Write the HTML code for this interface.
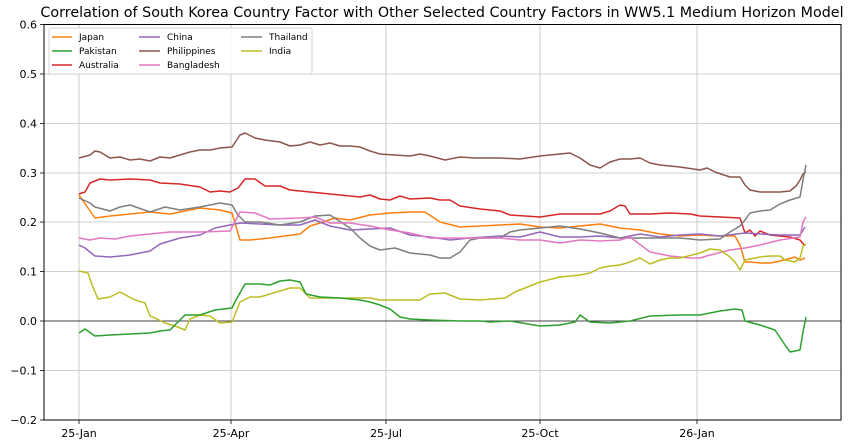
<!DOCTYPE html>
<html><head><meta charset="utf-8"><style>body{margin:0;background:#fff}svg{display:block}text{font-family:"DejaVu Sans","Liberation Sans",sans-serif}</style></head><body>
<svg width="854" height="440" viewBox="0 0 854 440">
<rect x="0" y="0" width="854" height="440" fill="#fff"/>
<g stroke="#b0b0b0" stroke-width="0.8" opacity="0.8">
<line x1="44" x2="841" y1="24.5" y2="24.5"/><line x1="44" x2="841" y1="74" y2="74"/><line x1="44" x2="841" y1="123.5" y2="123.5"/><line x1="44" x2="841" y1="173" y2="173"/><line x1="44" x2="841" y1="222" y2="222"/><line x1="44" x2="841" y1="271.5" y2="271.5"/><line x1="44" x2="841" y1="370.5" y2="370.5"/>
<line x1="79" x2="79" y1="24" y2="420"/><line x1="231" x2="231" y1="24" y2="420"/><line x1="386" x2="386" y1="24" y2="420"/><line x1="540" x2="540" y1="24" y2="420"/><line x1="697" x2="697" y1="24" y2="420"/>
</g>
<line x1="44" x2="841" y1="321" y2="321" stroke="#000" stroke-width="0.8"/>
<g fill="none" stroke-width="1.5" stroke-linejoin="round">
<polyline stroke="#8c564b" points="79,158 90,155 95,151 100,152 110,158 120,157 130,160 140,159 150,161 160,157 170,158 180,155 190,152 200,150 210,150 220,148 232,147 240,135 245,133 255,138 265,140 280,142 290,146 300,145 310,142 320,145 330,143 340,146 350,146 360,147 370,151 380,154 395,155 410,156 420,154 430,156 445,160 460,157 475,158 490,158 500,158 520,159 540,156 560,154 570,153 580,158 590,165 600,168 610,162 620,159 630,159 640,158 650,163 660,165 680,167 700,170 707,168 715,172 730,177 740,177 745,185 750,190 760,192 780,192 790,191 796,186 800,180 803,174 806,172"/>
<polyline stroke="#d62728" points="79,194 85,192 90,183 100,179 110,180 130,179 150,180 160,183 180,184 200,187 210,192 220,191 230,192 238,188 245,179 255,179 265,186 280,186 290,190 300,191 320,193 340,195 360,197 370,195 380,199 390,200 400,196 410,199 430,198 440,200 450,200 460,206 480,209 500,211 510,215 540,217 560,214 580,214 600,214 610,211 620,205 625,206 630,214 650,214 670,213 690,214 700,216 720,217 740,218 745,233 750,230 755,236 760,231 770,235 790,237 800,240 805,246"/>
<polyline stroke="#ff7f0e" points="79,195 88,208 95,218 110,216 130,214 150,212 170,214 190,210 200,208 220,210 232,213 240,240 250,240 270,238 300,234 310,226 320,223 335,218 350,220 370,215 390,213 410,212 425,212 440,222 460,227 480,226 500,225 520,224 540,227 560,228 580,226 600,224 620,228 640,230 660,234 680,236 700,235 720,236 735,236 740,245 745,262 750,262 760,263 770,263 780,261 788,259 795,257 800,260 805,258"/>
<polyline stroke="#9467bd" points="79,245 85,248 95,256 110,257 130,255 150,251 160,244 180,238 200,235 215,228 230,225 240,223 260,224 280,225 300,225 315,220 330,226 350,230 370,229 390,228 410,235 430,237 450,240 470,238 500,236 520,237 540,232 560,237 580,237 600,236 620,238 640,234 660,237 680,235 700,234 720,236 745,233 760,234 780,235 800,235 805,227"/>
<polyline stroke="#7f7f7f" points="79,198 90,203 95,207 110,211 120,207 130,205 150,212 165,207 180,210 200,207 220,203 232,205 238,215 245,222 260,222 280,225 300,222 315,216 330,215 350,228 360,238 370,246 380,250 395,248 410,253 430,255 440,258 450,258 460,252 470,240 480,238 500,238 510,232 520,230 540,228 560,226 580,229 600,233 620,238 640,238 660,238 680,238 700,240 720,239 730,232 740,226 745,220 750,213 760,211 770,210 780,204 790,200 800,197 803,180 806,165"/>
<polyline stroke="#e377c2" points="79,238 90,240 100,238 115,239 130,236 150,234 170,232 200,232 230,231 240,212 255,213 270,219 300,218 315,217 330,223 350,223 370,226 390,230 410,233 430,238 450,238 470,238 500,238 520,240 540,240 560,243 580,240 600,241 620,240 630,237 650,252 670,256 690,258 700,258 710,255 730,250 745,248 760,245 780,240 800,237 803,222 806,217"/>
<polyline stroke="#bcbd22" points="79,271 88,273 92,285 98,299 110,297 120,292 135,300 145,303 150,316 155,318 165,323 175,326 185,330 190,319 200,315 210,316 220,323 232,322 240,302 250,297 260,297 280,291 290,288 300,288 310,298 340,298 370,298 380,300 410,300 420,300 430,294 445,293 460,299 480,300 505,298 515,292 530,286 540,282 560,277 580,275 590,273 600,268 610,266 620,265 630,262 640,258 650,264 660,260 670,258 680,258 700,253 710,249 720,250 730,257 735,262 740,270 745,260 760,257 770,256 780,256 785,260 795,262 800,258 803,246 806,244"/>
<polyline stroke="#2ca02c" points="79,333 85,329 95,336 110,335 130,334 150,333 160,331 170,330 185,315 200,315 215,310 232,308 236,300 245,284 260,284 270,285 280,281 290,280 300,282 306,294 320,297 340,298 360,300 370,302 380,305 390,309 400,317 410,319 430,320 460,321 480,321 490,322 510,321 540,326 560,325 575,322 580,315 590,322 610,323 630,321 650,316 680,315 700,315 710,313 720,311 735,309 742,310 745,321 760,325 775,330 785,345 790,352 800,350 803,332 806,317"/>
</g>
<rect x="44" y="24.5" width="797" height="395.5" fill="none" stroke="#000" stroke-width="1"/>
<g stroke="#000" stroke-width="0.8">
<line x1="40" x2="44" y1="24.5" y2="24.5"/><line x1="40" x2="44" y1="74" y2="74"/><line x1="40" x2="44" y1="123.5" y2="123.5"/><line x1="40" x2="44" y1="173" y2="173"/><line x1="40" x2="44" y1="222" y2="222"/><line x1="40" x2="44" y1="271.5" y2="271.5"/><line x1="40" x2="44" y1="321" y2="321"/><line x1="40" x2="44" y1="370.5" y2="370.5"/><line x1="40" x2="44" y1="420" y2="420"/>
<line x1="79" x2="79" y1="420" y2="424"/><line x1="231" x2="231" y1="420" y2="424"/><line x1="386" x2="386" y1="420" y2="424"/><line x1="540" x2="540" y1="420" y2="424"/><line x1="697" x2="697" y1="420" y2="424"/>
</g>
<g font-size="11" fill="#000" text-anchor="end">
<text x="37" y="28.5">0.6</text><text x="37" y="78">0.5</text><text x="37" y="127.5">0.4</text><text x="37" y="177">0.3</text><text x="37" y="226">0.2</text><text x="37" y="275.5">0.1</text><text x="37" y="325">0.0</text><text x="37" y="374.5">−0.1</text><text x="37" y="424">−0.2</text>
</g>
<g font-size="11" fill="#000" text-anchor="middle">
<text x="79" y="437">25-Jan</text><text x="231" y="437">25-Apr</text><text x="386" y="437">25-Jul</text><text x="540" y="437">25-Oct</text><text x="697" y="437">26-Jan</text>
</g>
<text x="442" y="17" font-size="14.3" text-anchor="middle">Correlation of South Korea Country Factor with Other Selected Country Factors in WW5.1 Medium Horizon Model</text>
<rect x="49" y="28" width="263" height="46" fill="#fff" fill-opacity="0.8" stroke="#ccc" stroke-width="0.8" rx="2"/>
<g stroke-width="1.5">
<line x1="52" x2="72" y1="37" y2="37" stroke="#ff7f0e"/><line x1="52" x2="72" y1="51" y2="51" stroke="#2ca02c"/><line x1="52" x2="72" y1="65" y2="65" stroke="#d62728"/>
<line x1="139" x2="160" y1="37" y2="37" stroke="#9467bd"/><line x1="139" x2="160" y1="51" y2="51" stroke="#8c564b"/><line x1="139" x2="160" y1="65" y2="65" stroke="#e377c2"/>
<line x1="241" x2="262" y1="37" y2="37" stroke="#7f7f7f"/><line x1="241" x2="262" y1="51" y2="51" stroke="#bcbd22"/>
</g>
<g font-size="9" fill="#000">
<text x="79" y="40">Japan</text><text x="79" y="54">Pakistan</text><text x="79" y="68">Australia</text>
<text x="167" y="40">China</text><text x="167" y="54">Philippines</text><text x="167" y="68">Bangladesh</text>
<text x="269" y="40">Thailand</text><text x="269" y="54">India</text>
</g>
</svg>
</body></html>
